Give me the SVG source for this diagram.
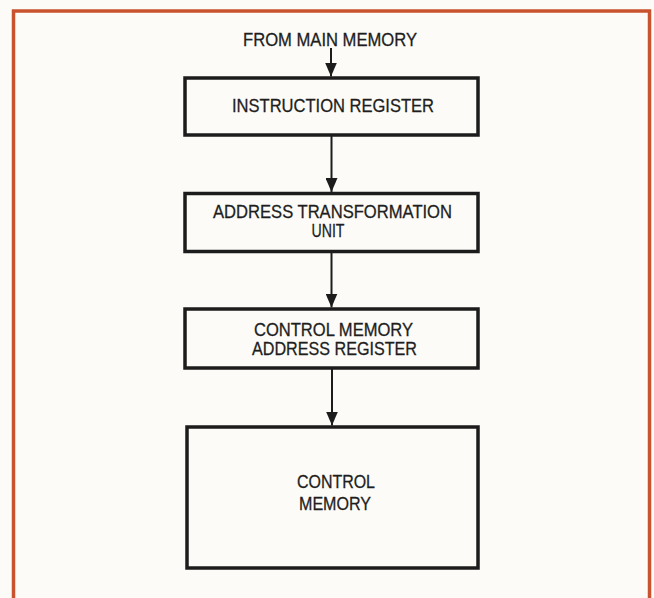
<svg xmlns="http://www.w3.org/2000/svg" width="654" height="598" viewBox="0 0 654 598">
<defs>
<style>
.bg{fill:#fcfbf7}
.frame{fill:none;stroke:#c9532e;stroke-width:3.5}
.box{fill:none;stroke:#1c1c1c;stroke-width:3.5}
.lbl{font-family:"Liberation Sans",Arial,sans-serif;font-size:19px;fill:#1e1e1e;text-anchor:middle;stroke:#1e1e1e;stroke-width:0.3}
.conn{stroke:#1c1c1c;stroke-width:2;fill:none}
</style>
<marker id="ah" viewBox="0 0 14 12" refX="14" refY="6" markerWidth="14" markerHeight="12" markerUnits="userSpaceOnUse" orient="auto">
<path d="M0,0 L14,6 L0,12 Z" fill="#1c1c1c"/>
</marker>
</defs>
<rect class="bg" x="0" y="0" width="654" height="598"/>
<path class="frame" d="M13.5,598 L13.5,11 L649.5,11 L649.5,598"/>
<g id="connectors">
<line class="conn" x1="331" y1="48" x2="331" y2="76.5" marker-end="url(#ah)"/>
<line class="conn" x1="331.5" y1="136" x2="331.5" y2="192" marker-end="url(#ah)"/>
<line class="conn" x1="331.5" y1="252" x2="331.5" y2="307.5" marker-end="url(#ah)"/>
<line class="conn" x1="332" y1="369" x2="332" y2="425.5" marker-end="url(#ah)"/>
</g>
<g id="source">
<text class="lbl" x="330" y="46" textLength="174" lengthAdjust="spacingAndGlyphs">FROM MAIN MEMORY</text>
</g>
<g id="instruction-register">
<rect class="box" x="185" y="78" width="293" height="57"/>
<text class="lbl" x="333" y="112" textLength="202" lengthAdjust="spacingAndGlyphs">INSTRUCTION REGISTER</text>
</g>
<g id="address-transformation-unit">
<rect class="box" x="185" y="193.5" width="293" height="58"/>
<text class="lbl" x="332.5" y="218" textLength="239" lengthAdjust="spacingAndGlyphs">ADDRESS TRANSFORMATION</text>
<text class="lbl" x="328" y="237" textLength="33" lengthAdjust="spacingAndGlyphs">UNIT</text>
</g>
<g id="control-memory-address-register">
<rect class="box" x="185" y="309" width="293" height="59"/>
<text class="lbl" x="333.5" y="336" textLength="159" lengthAdjust="spacingAndGlyphs">CONTROL MEMORY</text>
<text class="lbl" x="334.5" y="355" textLength="165" lengthAdjust="spacingAndGlyphs">ADDRESS REGISTER</text>
</g>
<g id="control-memory">
<rect class="box" x="187" y="427" width="291" height="141"/>
<text class="lbl" x="336" y="488" textLength="78" lengthAdjust="spacingAndGlyphs">CONTROL</text>
<text class="lbl" x="335" y="510" textLength="72" lengthAdjust="spacingAndGlyphs">MEMORY</text>
</g>
</svg>
